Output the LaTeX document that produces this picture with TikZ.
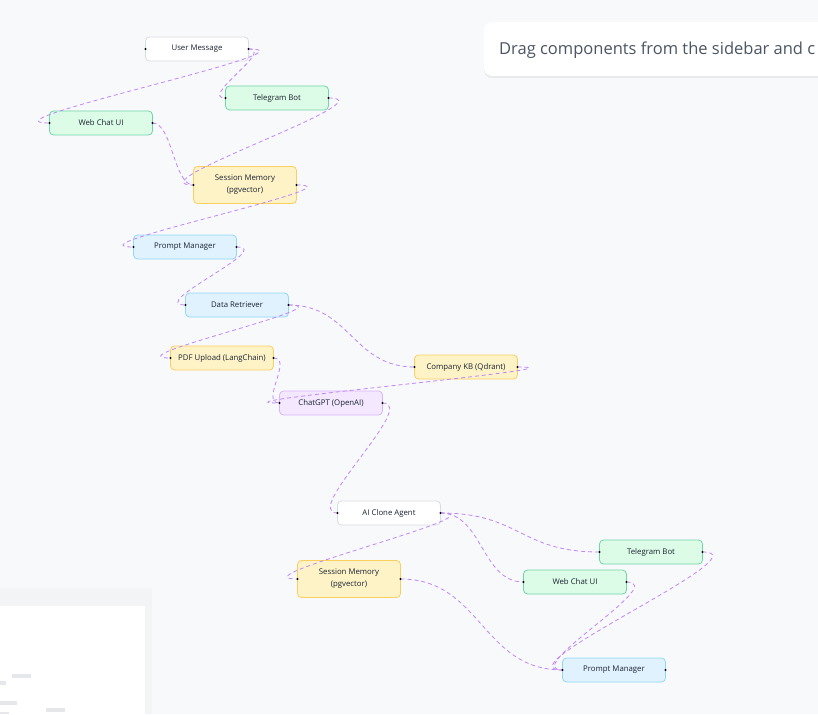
\documentclass[tikz,border=0pt]{standalone}
\usepackage{fontspec}
\setmainfont{Open Sans}
\usetikzlibrary{shadows}
\definecolor{canvas}{HTML}{F8F9FB}
\definecolor{ink}{HTML}{1A2230}
\definecolor{hintink}{HTML}{4B5563}
\definecolor{linkc}{HTML}{C084FC}
\definecolor{basicline}{HTML}{D9DCE1}
\definecolor{chanfill}{HTML}{DCFCE7}
\definecolor{chanline}{HTML}{6FD6A6}
\definecolor{storfill}{HTML}{FEF3C7}
\definecolor{storline}{HTML}{F9CF5F}
\definecolor{servfill}{HTML}{E0F2FE}
\definecolor{servline}{HTML}{93D7F8}
\definecolor{modfill}{HTML}{F3E8FF}
\definecolor{modline}{HTML}{D8B4FE}
\definecolor{mapgray}{HTML}{F3F4F6}
\definecolor{mapnode}{HTML}{E5E7EB}
\tikzset{
  box/.style={draw, rounded corners=4pt, line width=0.8pt, outer sep=0pt,
    minimum width=103pt, minimum height=24pt, inner sep=2pt, align=center,
    text=ink, font=\fontsize{7.8}{12}\selectfont},
  basic/.style={box, draw=basicline, fill=white},
  channel/.style={box, draw=chanline, fill=chanfill},
  storage/.style={box, draw=storline, fill=storfill},
  service/.style={box, draw=servline, fill=servfill},
  model/.style={box, draw=modline, fill=modfill},
  tall/.style={minimum height=37pt},
  link/.style={draw=linkc, line width=0.8pt, dash pattern=on 4pt off 3pt},
}
\begin{document}
\begin{tikzpicture}[x=1pt,y=-1pt]
  \fill[canvas] (0,0) rectangle (818,714);
  \useasboundingbox (0,0) rectangle (818,714);
  % minimap panel
  \fill[mapgray] (0,588) rectangle (152,714);
  \fill[white] (0,606) rectangle (145,714);
  \fill[mapnode] (12,674) rectangle (31,678);
  \fill[mapnode] (0,681) rectangle (6,685);
  \fill[mapnode] (0,701) rectangle (17,705);
  \fill[mapnode] (46,708) rectangle (65,712);
  \fill[mapnode] (0,712) rectangle (9,714);
  % hint banner
  \begin{scope}
    \clip (0,0) rectangle (818,714);
    \fill[white, rounded corners=8pt, drop shadow={opacity=0.12, shadow xshift=0pt, shadow yshift=-2pt}] (484,22) rectangle (840,76);
    \node[anchor=west, text=hintink, font=\fontsize{16.5}{19}\selectfont, inner sep=0pt] (hint) at (499,50) {Drag components from the sidebar and c};
  \end{scope}
  % nodes
  \node[basic] (um) at (197,49) {User Message};
  \node[channel] (tba) at (277,98) {Telegram Bot};
  \node[channel] (wca) at (101,123) {Web Chat UI};
  \node[storage, tall] (sma) at (245,185) {Session Memory\\(pgvector)};
  \node[service] (pma) at (185,247) {Prompt Manager};
  \node[service] (dr) at (237,305) {Data Retriever};
  \node[storage] (pdf) at (222,358) {PDF Upload (LangChain)};
  \node[storage] (kb) at (466,367) {Company KB (Qdrant)};
  \node[model] (gpt) at (331,403) {ChatGPT (OpenAI)};
  \node[basic] (agent) at (389,513) {AI Clone Agent};
  \node[channel] (tbb) at (651,552) {Telegram Bot};
  \node[channel] (wcb) at (575,582) {Web Chat UI};
  \node[storage, tall] (smb) at (349,579) {Session Memory\\(pgvector)};
  \node[service] (pmb) at (614,670) {Prompt Manager};
  % edges
  \foreach \a/\b/\o in {um/tba/27, um/wca/78, tba/sma/64, wca/sma/20,
      sma/pma/70, pma/dr/40, dr/pdf/60, dr/kb/62, pdf/gpt/20, kb/gpt/85,
      gpt/agent/37, agent/tbb/80, agent/wcb/42, agent/smb/66,
      smb/pmb/81, wcb/pmb/44, tbb/pmb/65}
    \draw[link] (\a.east) .. controls +(\o,0) and +(-\o,0) .. (\b.west);
  % handles
  \foreach \n in {um, tba, wca, sma, pma, dr, pdf, kb, gpt, agent, tbb, wcb, smb, pmb} {
    \fill (\n.west) circle (1.1pt);
    \fill (\n.east) circle (1.1pt);
  }
\end{tikzpicture}
\end{document}
